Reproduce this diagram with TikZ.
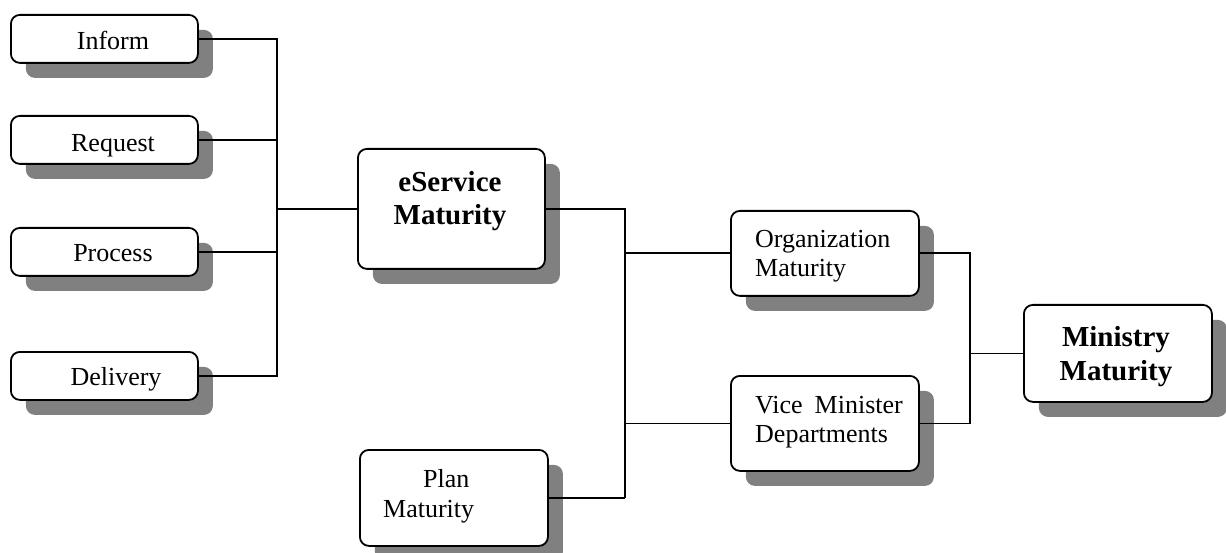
\documentclass[tikz,border=0pt]{standalone}
\usepackage{fontspec}
\setmainfont{Liberation Serif}
\usetikzlibrary{shadows}
\begin{document}
\begin{tikzpicture}[x=1pt,y=-1pt,
  box/.style={draw, line width=1.8pt, rounded corners=9pt, fill=white, inner sep=0pt, anchor=north west,
    drop shadow={shadow xshift=15pt, shadow yshift=-15pt, fill=black!50, opacity=1}},
  conn/.style={line width=1.8pt},
  txt/.style={anchor=base, inner sep=0pt, font=\fontsize{26}{30}\selectfont},
  ltxt/.style={anchor=base west, inner sep=0pt, font=\fontsize{26}{30}\selectfont},
  btxt/.style={anchor=base, inner sep=0pt, font=\fontsize{29}{33}\selectfont\bfseries}]
\useasboundingbox (0,0) rectangle (1226,553);
% boxes
\node[box, minimum width=187pt, minimum height=48pt] (inform) at (10,14) {};
\node[box, minimum width=187pt, minimum height=48pt] (request) at (10,115) {};
\node[box, minimum width=187pt, minimum height=48pt] (process) at (10,227) {};
\node[box, minimum width=187pt, minimum height=48pt] (delivery) at (10,351) {};
\node[box, minimum width=187pt, minimum height=120pt] (eservice) at (357,148) {};
\node[box, minimum width=188pt, minimum height=96pt] (plan) at (359,449) {};
\node[box, minimum width=188pt, minimum height=85pt] (org) at (730,210) {};
\node[box, minimum width=188pt, minimum height=95pt] (vice) at (730,375) {};
\node[box, minimum width=188pt, minimum height=97pt] (ministry) at (1023,304) {};
% texts
\node[txt] (t1) at (113,50) {Inform};
\node[txt] (t2) at (113,152) {Request};
\node[txt] (t3) at (113,262) {Process};
\node[txt] (t4) at (116,385) {Delivery};
\node[btxt] (t5) at (450,192) {eService};
\node[btxt] (t6) at (450,225) {Maturity};
\node[ltxt] (t7) at (423,487) {Plan};
\node[ltxt] (t8) at (383,517) {Maturity};
\node[ltxt] (t9) at (755,248) {Organization};
\node[ltxt] (t10) at (755,277) {Maturity};
\node[ltxt] (t11) at (755,413) {Vice\hspace{12pt}Minister};
\node[ltxt] (t12) at (755,442) {Departments};
\node[btxt] (t13) at (1116,346) {Ministry};
\node[btxt] (t14) at (1116,380) {Maturity};
% connectors
\coordinate (j1) at (eservice.west -| 277,0);
\coordinate (j2) at (plan.east -| 625,0);
\coordinate (j3) at (ministry.west -| 970,0);
\draw[conn] (inform.east) -| (j1);
\draw[conn] (request.east) -| (j1);
\draw[conn] (process.east) -| (j1);
\draw[conn] (delivery.east) -| (j1);
\draw[conn] (j1) -- (eservice.west);
\draw[conn] (eservice.east) -| (j2);
\draw[conn] (plan.east) -- (j2);
\draw[conn] (org.west) -- (org.west -| j2);
\draw[conn] (vice.west) -- (vice.west -| j2);
\draw[conn] (org.east) -| (j3);
\draw[conn] (vice.east) -| (j3);
\draw[conn] (j3) -- (ministry.west);
\end{tikzpicture}
\end{document}
